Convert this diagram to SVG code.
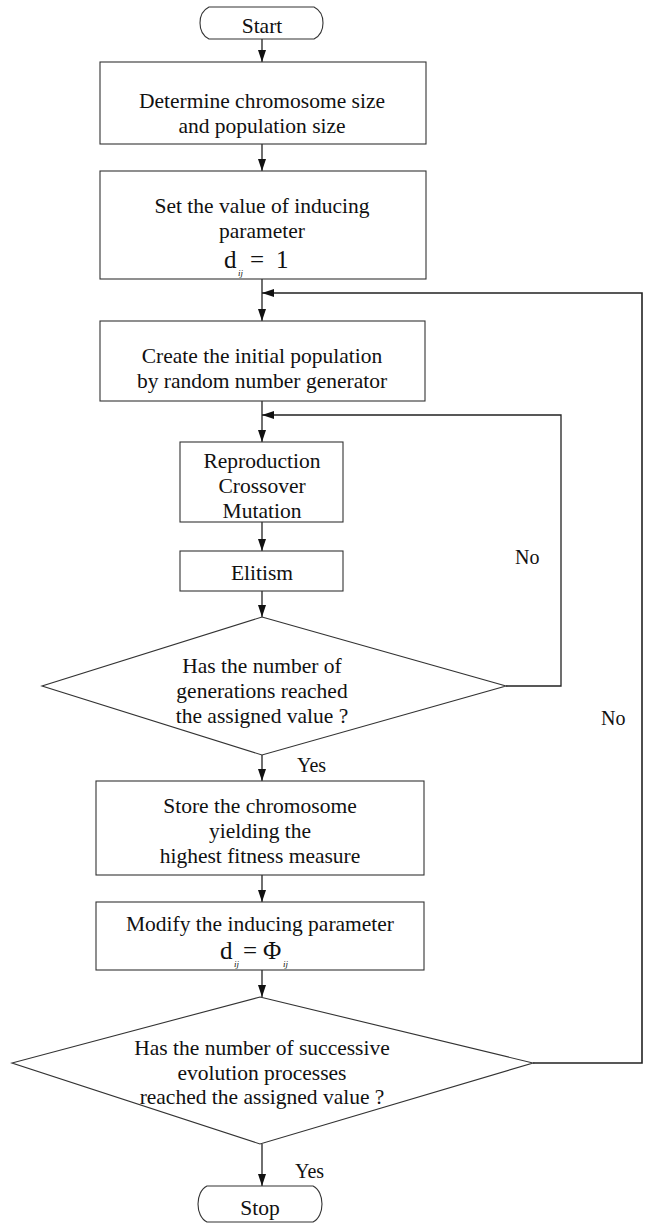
<svg xmlns="http://www.w3.org/2000/svg" width="645" height="1226" viewBox="0 0 645 1226">
  <style>
    .box { fill: #fff; stroke: #333; stroke-width: 1.1; }
    .wire { fill: none; stroke: #222; stroke-width: 1.3; }
    .loop { fill: none; stroke: #222; stroke-width: 1.6; }
    .t { font-family: "Liberation Serif", "DejaVu Serif", "Times New Roman", serif; font-size: 21.5px; fill: #111; text-anchor: middle; }
    .lbl { font-family: "Liberation Serif", "DejaVu Serif", "Times New Roman", serif; font-size: 20px; fill: #111; }
    .math { font-family: "Liberation Serif", "DejaVu Serif", "Times New Roman", serif; font-size: 25px; fill: #111; }
    .sub { font-family: "Liberation Serif", "DejaVu Serif", "Times New Roman", serif; font-size: 9px; font-style: italic; fill: #111; }
  </style>
  <defs>
    <marker id="arrow" viewBox="0 0 12 8" refX="12" refY="4" markerWidth="12" markerHeight="8" markerUnits="userSpaceOnUse" orient="auto">
      <path d="M0,0 L12,4 L0,8 Z" fill="#111"/>
    </marker>
  </defs>
  <rect width="645" height="1226" fill="#fff"/>

  <!-- connectors -->
  <g id="connectors">
    <line class="wire" x1="262" y1="39" x2="262" y2="62" marker-end="url(#arrow)"/>
    <line class="wire" x1="262" y1="144" x2="262" y2="171" marker-end="url(#arrow)"/>
    <line class="wire" x1="262" y1="279" x2="262" y2="321" marker-end="url(#arrow)"/>
    <line class="wire" x1="262" y1="401" x2="262" y2="442" marker-end="url(#arrow)"/>
    <line class="wire" x1="262" y1="522" x2="262" y2="551" marker-end="url(#arrow)"/>
    <line class="wire" x1="262" y1="591" x2="262" y2="617" marker-end="url(#arrow)"/>
    <line class="wire" x1="262" y1="755" x2="262" y2="781" marker-end="url(#arrow)"/>
    <line class="wire" x1="262" y1="875" x2="262" y2="902" marker-end="url(#arrow)"/>
    <line class="wire" x1="262" y1="970" x2="262" y2="997" marker-end="url(#arrow)"/>
    <line class="wire" x1="262" y1="1144" x2="262" y2="1186" marker-end="url(#arrow)"/>
    <!-- inner loop: generations not reached -->
    <polyline class="wire" points="506,686 561,686 561,415 262,415" marker-end="url(#arrow)"/>
    <!-- outer loop: evolution processes not reached -->
    <polyline class="loop" points="533,1063 642,1063 642,293 262,293" marker-end="url(#arrow)"/>
    <text class="lbl" x="515" y="564">No</text>
    <text class="lbl" x="601" y="725">No</text>
    <text class="lbl" x="297" y="772">Yes</text>
    <text class="lbl" x="295" y="1178">Yes</text>
  </g>

  <g id="start">
    <path class="box" d="M209,7 H314 C326,13 326,33 314,39 H209 C197,33 197,13 209,7 Z"/>
    <text class="t" x="262" y="33">Start</text>
  </g>

  <g id="determine-sizes">
    <rect class="box" x="100" y="62" width="326" height="82"/>
    <text class="t" x="262" y="108">Determine chromosome size</text>
    <text class="t" x="262" y="133">and population size</text>
  </g>

  <g id="set-inducing">
    <rect class="box" x="100" y="171" width="326" height="108"/>
    <text class="t" x="262" y="213">Set the value of inducing</text>
    <text class="t" x="262" y="238">parameter</text>
    <text class="math" x="224" y="268">d</text>
    <text class="sub" x="238" y="276">ij</text>
    <text class="math" x="250" y="268">=</text>
    <text class="math" x="276" y="268">1</text>
  </g>

  <g id="initial-population">
    <rect class="box" x="100" y="321" width="325" height="80"/>
    <text class="t" x="262" y="363">Create the initial population</text>
    <text class="t" x="262" y="388">by random number generator</text>
  </g>

  <g id="operators">
    <rect class="box" x="180" y="442" width="163" height="80"/>
    <text class="t" x="262" y="468">Reproduction</text>
    <text class="t" x="262" y="493">Crossover</text>
    <text class="t" x="262" y="518">Mutation</text>
  </g>

  <g id="elitism">
    <rect class="box" x="180" y="551" width="163" height="40"/>
    <text class="t" x="262" y="580">Elitism</text>
  </g>

  <g id="generations-check">
    <polygon class="box" points="262,617 506,686 262,755 42,686"/>
    <text class="t" x="262" y="673">Has the number of</text>
    <text class="t" x="262" y="698">generations reached</text>
    <text class="t" x="262" y="723">the assigned value ?</text>
  </g>

  <g id="store-best">
    <rect class="box" x="96" y="781" width="328" height="94"/>
    <text class="t" x="260" y="813">Store the chromosome</text>
    <text class="t" x="260" y="838">yielding the</text>
    <text class="t" x="260" y="863">highest fitness measure</text>
  </g>

  <g id="modify-inducing">
    <rect class="box" x="96" y="902" width="328" height="68"/>
    <text class="t" x="260" y="931">Modify the inducing parameter</text>
    <text class="math" x="220" y="959">d</text>
    <text class="sub" x="234" y="967">ij</text>
    <text class="math" x="243" y="959">=</text>
    <text class="math" x="263" y="959">Φ</text>
    <text class="sub" x="283" y="967">ij</text>
  </g>

  <g id="evolution-check">
    <polygon class="box" points="260,997 533,1063 260,1144 12,1063"/>
    <text class="t" x="262" y="1055">Has the number of successive</text>
    <text class="t" x="262" y="1080">evolution processes</text>
    <text class="t" x="262" y="1104">reached the assigned value ?</text>
  </g>

  <g id="stop">
    <path class="box" d="M207,1186 H313 C325,1192 325,1216 313,1222 H207 C195,1216 195,1192 207,1186 Z"/>
    <text class="t" x="260" y="1215">Stop</text>
  </g>
</svg>
